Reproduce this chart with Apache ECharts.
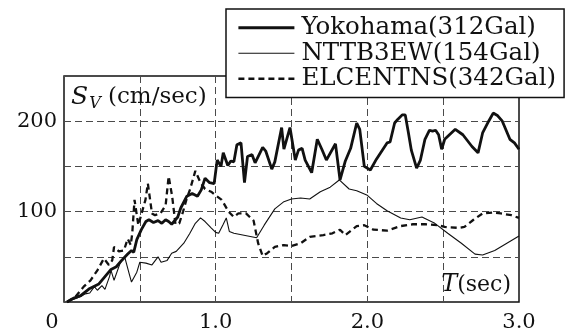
<!DOCTYPE html>
<html>
<head>
<meta charset="utf-8">
<script src="https://cdn.jsdelivr.net/npm/echarts@6/dist/echarts.min.js"></script>
<style>
  html, body { margin: 0; padding: 0; background: #fff; }
  #chart { width: 567px; height: 334px; }
</style>
</head>
<body>
<div id="chart"></div>
<script>
  // period T (sec), velocity response Sv (cm/sec)
  var yokohama = [
    [0.02, 0], [0.06, 4], [0.11, 7], [0.17, 15], [0.23, 20], [0.27, 28], [0.31, 36], [0.345, 39],
    [0.38, 46], [0.42, 53], [0.445, 57], [0.46, 55], [0.48, 69], [0.51, 80], [0.54, 89], [0.56, 91],
    [0.59, 88], [0.62, 90], [0.645, 87], [0.67, 91], [0.69, 89], [0.71, 86], [0.735, 91], [0.75, 94],
    [0.77, 104], [0.81, 117], [0.845, 120], [0.88, 117], [0.905, 124], [0.93, 137], [0.96, 132], [0.99, 131],
    [1.01, 157], [1.035, 150], [1.05, 165], [1.08, 151], [1.10, 156], [1.12, 155], [1.14, 174], [1.167, 176],
    [1.19, 132], [1.21, 161], [1.24, 163], [1.26, 154], [1.31, 171], [1.33, 167], [1.37, 147], [1.39, 155],
    [1.435, 193], [1.45, 169], [1.49, 193], [1.525, 157], [1.546, 168], [1.57, 170], [1.59, 157], [1.633, 143],
    [1.67, 180], [1.70, 169], [1.73, 157], [1.79, 175], [1.82, 135], [1.855, 156], [1.89, 170], [1.93, 198],
    [1.95, 191], [1.98, 150], [2.02, 146], [2.06, 158], [2.13, 176], [2.15, 177], [2.18, 198], [2.20, 202],
    [2.23, 207], [2.25, 207], [2.27, 188], [2.29, 168], [2.325, 148], [2.35, 157], [2.38, 180], [2.41, 190],
    [2.43, 189], [2.45, 190], [2.47, 185], [2.49, 169], [2.51, 180], [2.58, 191], [2.63, 185], [2.69, 172],
    [2.73, 165], [2.76, 187], [2.80, 200], [2.83, 209], [2.86, 206], [2.89, 200], [2.94, 180], [2.97, 176],
    [3.0, 169]
  ]
  var nttb3ew = [
    [0.02, 0], [0.11, 6], [0.14, 9], [0.17, 10], [0.20, 17], [0.22, 13], [0.25, 18], [0.27, 14],
    [0.30, 28], [0.31, 35], [0.33, 24], [0.37, 43], [0.40, 50], [0.43, 31], [0.445, 22], [0.48, 33],
    [0.50, 44], [0.54, 43], [0.58, 41], [0.62, 50], [0.64, 44], [0.68, 46], [0.71, 54], [0.74, 56],
    [0.79, 65], [0.83, 76], [0.866, 87], [0.90, 93], [0.93, 89], [0.97, 82], [1.0, 77], [1.02, 76],
    [1.05, 86], [1.07, 93], [1.09, 78], [1.12, 76], [1.27, 71], [1.32, 85], [1.39, 103], [1.45, 111],
    [1.50, 114], [1.56, 115], [1.62, 114], [1.69, 122], [1.755, 127], [1.815, 135], [1.88, 125], [1.93, 123],
    [2.0, 118], [2.06, 109], [2.13, 101], [2.22, 93], [2.28, 91], [2.36, 94], [2.445, 87], [2.53, 76],
    [2.62, 65], [2.71, 53], [2.76, 52], [2.84, 57], [2.92, 65], [3.0, 73]
  ]
  var elcentns = [
    [0.02, 0], [0.077, 6], [0.13, 17], [0.175, 24], [0.22, 35], [0.263, 48], [0.296, 41], [0.318, 46],
    [0.33, 61], [0.362, 56], [0.395, 57], [0.42, 70], [0.44, 63], [0.45, 76], [0.465, 113], [0.49, 85],
    [0.515, 100], [0.537, 113], [0.553, 131], [0.58, 98], [0.60, 96], [0.636, 98], [0.67, 107], [0.69, 139],
    [0.713, 117], [0.735, 86], [0.76, 87], [0.785, 100], [0.81, 115], [0.83, 124], [0.866, 145], [0.90, 132],
    [0.93, 125], [0.97, 122], [1.0, 118], [1.04, 113], [1.085, 100], [1.12, 94], [1.15, 98], [1.20, 98],
    [1.25, 90], [1.28, 65], [1.31, 51], [1.34, 54], [1.39, 61], [1.45, 63], [1.50, 62], [1.56, 65],
    [1.62, 72], [1.71, 74], [1.77, 76], [1.82, 80], [1.855, 74], [1.93, 84], [1.98, 85], [2.04, 80],
    [2.13, 79], [2.22, 84], [2.30, 86], [2.38, 86], [2.47, 85], [2.51, 83], [2.60, 82], [2.64, 83],
    [2.70, 91], [2.76, 98], [2.83, 99], [2.88, 98], [2.95, 96], [3.0, 93]
  ]
  var seriesNames = ['Yokohama(312Gal)', 'NTTB3EW(154Gal)', 'ELCENTNS(342Gal)']
  var xLabels = {0: '0', 1: '1.0', 2: '2.0', 3: '3.0'}
  var yLabels = {100: '100', 200: '200'}

  var FONT = '"DejaVu Serif", "Liberation Serif", serif'
  var INK = '#111'
  var GRIDLINE = {show: true, lineStyle: {color: '#4a4a4a', width: 1, type: [7, 4]}}
  var STYLES = [
    {color: INK, width: 2.8},
    {color: INK, width: 1.1},
    {color: INK, width: 2.3, type: [6, 4]}
  ]
  var DATA = [yokohama, nttb3ew, elcentns]

  var series = []
  var legendData = []
  for (var i = 0; i < seriesNames.length; i++) {
    series.push({
      name: seriesNames[i], type: 'line', data: DATA[i], symbol: 'none',
      lineStyle: STYLES[i], itemStyle: {color: INK}, z: i === 0 ? 4 : 3
    })
    legendData.push({name: seriesNames[i], lineStyle: STYLES[i], itemStyle: {opacity: 0}})
  }

  var chart = echarts.init(document.getElementById('chart'), null, {renderer: 'canvas'})
  chart.setOption({
    animation: false,
    textStyle: {fontFamily: FONT, color: INK},
    grid: {
      left: 64, right: 48, top: 76, bottom: 32,
      show: true, borderColor: '#111', borderWidth: 1.5, backgroundColor: 'transparent'
    },
    legend: {
      orient: 'vertical',
      left: 226, top: 9,
      padding: [6, 8, 6, 11],
      itemGap: 0,
      itemWidth: 56,
      itemHeight: 25,
      backgroundColor: '#fff',
      borderColor: '#111',
      borderWidth: 1.5,
      borderRadius: 0,
      itemStyle: {opacity: 0},
      textStyle: {fontFamily: FONT, fontSize: 24.5, color: INK, lineHeight: 25.5, padding: [0, 0, 0, 2]},
      data: legendData
    },
    xAxis: {
      type: 'value',
      min: 0, max: 3, interval: 0.5,
      axisLine: {show: false},
      axisTick: {show: false},
      splitLine: GRIDLINE,
      axisLabel: {
        fontFamily: FONT, fontSize: 21, color: INK, margin: 10, showMinLabel: true, showMaxLabel: true,
        formatter: function (v) {
          if (v === 0) return '{z|0}'
          return xLabels[Math.round(v * 10) / 10] || ''
        },
        rich: {z: {fontFamily: FONT, fontSize: 21, color: INK, padding: [0, 24, 0, 0]}}
      },
      name: '{t|T}{n|(sec)}',
      nameLocation: 'end',
      nameGap: -8,
      nameTextStyle: {
        align: 'right', verticalAlign: 'bottom', padding: [0, 0, 5, 0],
        rich: {
          t: {fontFamily: FONT, fontSize: 24, fontStyle: 'italic', color: INK},
          n: {fontFamily: FONT, fontSize: 22, color: INK}
        }
      }
    },
    yAxis: {
      type: 'value',
      min: 0, max: 250, interval: 50,
      axisLine: {show: false},
      axisTick: {show: false},
      splitLine: GRIDLINE,
      axisLabel: {
        fontFamily: FONT, fontSize: 21, color: INK, margin: 7,
        formatter: function (v) { return yLabels[v] || '' }
      },
      name: '{s|S}{v|V}{n| (cm/sec)}',
      nameLocation: 'end',
      nameGap: -6,
      nameTextStyle: {
        align: 'left', verticalAlign: 'top', padding: [0, 0, 0, 7],
        rich: {
          s: {fontFamily: FONT, fontSize: 25, fontStyle: 'italic', color: INK},
          v: {fontFamily: FONT, fontSize: 16, fontStyle: 'italic', color: INK, padding: [14, 0, 0, 1]},
          n: {fontFamily: FONT, fontSize: 23, color: INK}
        }
      }
    },
    series: series
  })
</script>
</body>
</html>
